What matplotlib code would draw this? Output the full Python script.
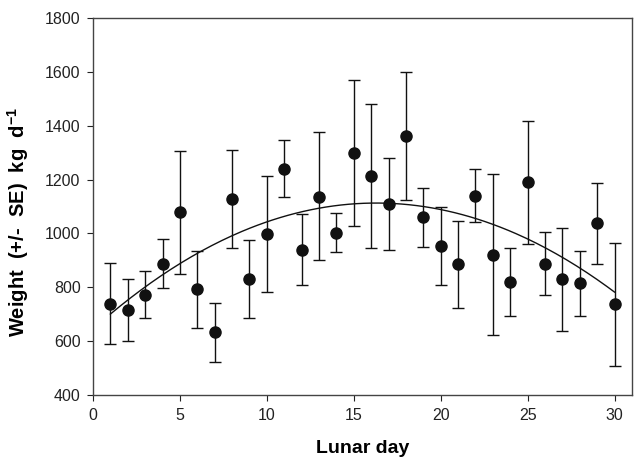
import numpy as np
import matplotlib
matplotlib.use("Agg")
import matplotlib.pyplot as plt

plt.rcParams['font.family'] = ['Liberation Sans', 'DejaVu Sans']
plt.rcParams['mathtext.fontset'] = 'custom'
plt.rcParams['mathtext.rm'] = 'Liberation Sans'
plt.rcParams['mathtext.bf'] = 'Liberation Sans:bold'

days = list(range(1, 31))
mean = [740, 715, 770, 888, 1078, 793, 633, 1128, 832, 998,
        1240, 940, 1137, 1003, 1297, 1213, 1108, 1363, 1060, 955,
        885, 1140, 920, 820, 1190, 888, 830, 815, 1038, 737]
upper = [890, 833, 860, 980, 1305, 935, 742, 1308, 975, 1213,
         1346, 1072, 1375, 1075, 1568, 1480, 1280, 1600, 1170, 1100,
         1045, 1238, 1220, 945, 1418, 1005, 1020, 935, 1188, 965]
lower = [590, 600, 685, 797, 850, 648, 522, 945, 685, 783,
         1135, 808, 900, 930, 1028, 948, 940, 1125, 950, 808,
         725, 1043, 625, 695, 962, 772, 638, 693, 885, 508]
# quadratic fit (vertex form): peak value, peak day, curvature
fit_peak = 1113
fit_day = 16.3
fit_k = 1.76

fig = plt.figure(figsize=(6.37, 4.59), dpi=100)
ax = fig.add_axes([0.146, 0.139, 0.846, 0.822])

m = np.array(mean)
yerr = [m - np.array(lower), np.array(upper) - m]
ax.errorbar(days, mean, yerr=yerr, fmt='o', color='#111111', ecolor='#111111',
            markersize=8, capsize=4.5, elinewidth=1.0, capthick=1.0)

xc = np.linspace(1, 30, 200)
ax.plot(xc, fit_peak - fit_k * (xc - fit_day) ** 2, color='#111111', lw=1.0)

ax.set_xlim(0, 31)
ax.set_ylim(400, 1800)
ax.set_xticks([0, 5, 10, 15, 20, 25, 30])
ax.set_yticks(range(400, 1801, 200))
ax.tick_params(direction='out', length=4, labelsize=11.5, colors='#222222', pad=5)
for s in ax.spines.values():
    s.set_color('#444444')
    s.set_linewidth(1.0)
ax.set_xlabel('Lunar day', fontsize=14, fontweight='bold')
ax.set_ylabel('Weight  (+/-  SE)  kg  d$^{\\mathbf{-1}}$', fontsize=14.5, fontweight='bold')
ax.xaxis.set_label_coords(0.5, -0.118)
ax.yaxis.set_label_coords(-0.115, 0.46)

fig.savefig('out.png', dpi=100)
